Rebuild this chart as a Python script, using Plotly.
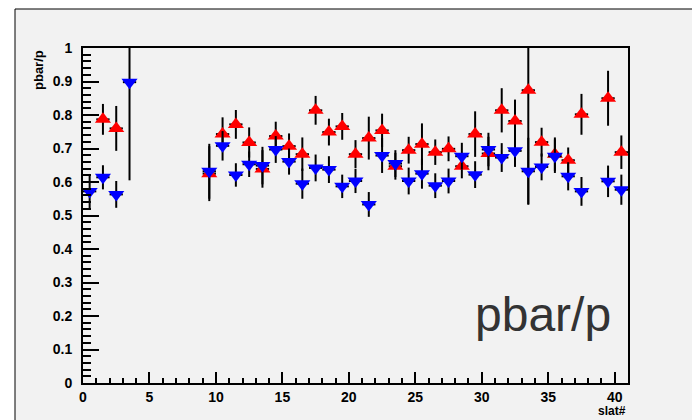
import plotly.graph_objects as go

# bin indices (centres at bin + 0.5)
red_bins = [1, 2, 9, 10, 11, 12, 13, 14, 15, 16, 17, 18, 19, 20, 21, 22, 23, 24, 25, 26, 27, 28, 29, 30,
            31, 32, 33, 34, 35, 36, 37, 39, 40]
red_vals = [0.787, 0.760, 0.625, 0.743, 0.772, 0.718, 0.639, 0.737, 0.707, 0.683, 0.814, 0.749, 0.766,
            0.683, 0.731, 0.754, 0.647, 0.695, 0.713, 0.689, 0.699, 0.647, 0.743, 0.685, 0.814, 0.782,
            0.874, 0.719, 0.683, 0.665, 0.802, 0.850, 0.689]
red_errs = [0.046, 0.067, 0.082, 0.050, 0.043, 0.045, 0.056, 0.043, 0.038, 0.050, 0.043, 0.040, 0.040,
            0.042, 0.064, 0.050, 0.040, 0.040, 0.062, 0.038, 0.037, 0.036, 0.068, 0.050, 0.066, 0.064,
            0.340, 0.043, 0.050, 0.038, 0.061, 0.082, 0.050]

blue_bins = [0, 1, 2, 3, 9, 10, 11, 12, 13, 14, 15, 16, 17, 18, 19, 20, 21, 22, 23, 24, 25, 26, 27, 28,
             29, 30, 31, 32, 33, 34, 35, 36, 37, 39, 40]
blue_vals = [0.572, 0.614, 0.563, 0.898, 0.632, 0.708, 0.621, 0.653, 0.649, 0.697, 0.661, 0.595, 0.642,
             0.637, 0.587, 0.603, 0.533, 0.679, 0.655, 0.603, 0.625, 0.589, 0.603, 0.677, 0.622, 0.697,
             0.673, 0.693, 0.632, 0.645, 0.677, 0.617, 0.572, 0.602, 0.577]
blue_errs = [0.052, 0.036, 0.040, 0.293, 0.082, 0.044, 0.035, 0.038, 0.056, 0.040, 0.039, 0.045, 0.040,
             0.040, 0.035, 0.036, 0.037, 0.052, 0.040, 0.040, 0.045, 0.037, 0.037, 0.040, 0.040, 0.050,
             0.043, 0.048, 0.100, 0.040, 0.050, 0.042, 0.043, 0.047, 0.045]

bin_half_width = 0.5
x_range = [0, 41]
y_range = [0, 1]
title_text = "pbar/p"
x_title = "slat#"
y_title = "pbar/p"

BG = "#f2f2f2"
TICKFONT = dict(family="Liberation Sans Narrow, Liberation Sans, Arial", size=14, color="black", weight="bold")

fig = go.Figure()


def add_series(bins, vals, errs, color, symbol):
    fig.add_trace(go.Scatter(
        x=[b + bin_half_width for b in bins], y=vals, mode="markers",
        marker=dict(symbol=symbol, size=14, color=color, line=dict(width=0)),
        error_y=dict(type="data", array=errs, visible=True, color="black", thickness=2, width=0),
        error_x=dict(type="constant", value=bin_half_width, visible=True, color="black", thickness=2, width=0),
        showlegend=False, cliponaxis=True,
    ))


add_series(red_bins, red_vals, red_errs, "#ff0000", "triangle-up")
add_series(blue_bins, blue_vals, blue_errs, "#0000ff", "triangle-down")

L, R, T, B = 83, 64, 48, 37
W, H = 692, 420
pw, ph = W - L - R, H - T - B


def px2x(px):
    return (px - L) / pw


def py2y(py):
    return (H - B - py) / ph


fig.update_layout(
    width=W, height=H,
    margin=dict(l=L, r=R, t=T, b=B, pad=0),
    paper_bgcolor="white", plot_bgcolor=BG,
    shapes=[dict(type="rect", xref="paper", yref="paper", layer="below",
                 x0=px2x(15), x1=px2x(720), y0=py2y(9), y1=py2y(440),
                 fillcolor=BG, line=dict(color="black", width=1))],
    annotations=[
        dict(text=title_text, x=px2x(543), y=py2y(314), xref="paper", yref="paper",
             xanchor="center", yanchor="middle", showarrow=False,
             font=dict(family="Liberation Sans, Arial", size=48, color="#333333")),
        dict(text=y_title, x=px2x(38), y=1.0, xref="paper", yref="paper", textangle=-90,
             xanchor="center", yanchor="top", showarrow=False,
             font=dict(family="Liberation Sans Narrow, Liberation Sans, Arial", size=13, color="black", weight="bold")),
        dict(text=x_title, x=1.0, y=py2y(411), xref="paper", yref="paper",
             xanchor="right", yanchor="middle", showarrow=False,
             font=dict(family="Liberation Sans Narrow, Liberation Sans, Arial", size=12, color="black", weight="bold")),
    ],
)

fig.update_xaxes(range=x_range, dtick=5, tick0=0, ticks="inside", ticklen=11, tickwidth=2, tickcolor="black",
                 minor=dict(dtick=1, ticks="inside", ticklen=5, tickwidth=2, tickcolor="black"),
                 showgrid=False, zeroline=False, showline=True, linewidth=2, linecolor="black", mirror=True,
                 tickfont=TICKFONT, ticklabelstandoff=0)
fig.update_yaxes(range=y_range, dtick=0.1, tick0=0, ticks="inside", ticklen=16, tickwidth=2, tickcolor="black",
                 minor=dict(dtick=0.02, ticks="inside", ticklen=8, tickwidth=2, tickcolor="black"),
                 showgrid=False, zeroline=False, showline=True, linewidth=2, linecolor="black", mirror=True,
                 tickfont=TICKFONT, ticklabelstandoff=6)

fig.write_html("out.html", config={"displayModeBar": False},
               post_script="document.body.style.margin='0';document.body.style.padding='0';")
